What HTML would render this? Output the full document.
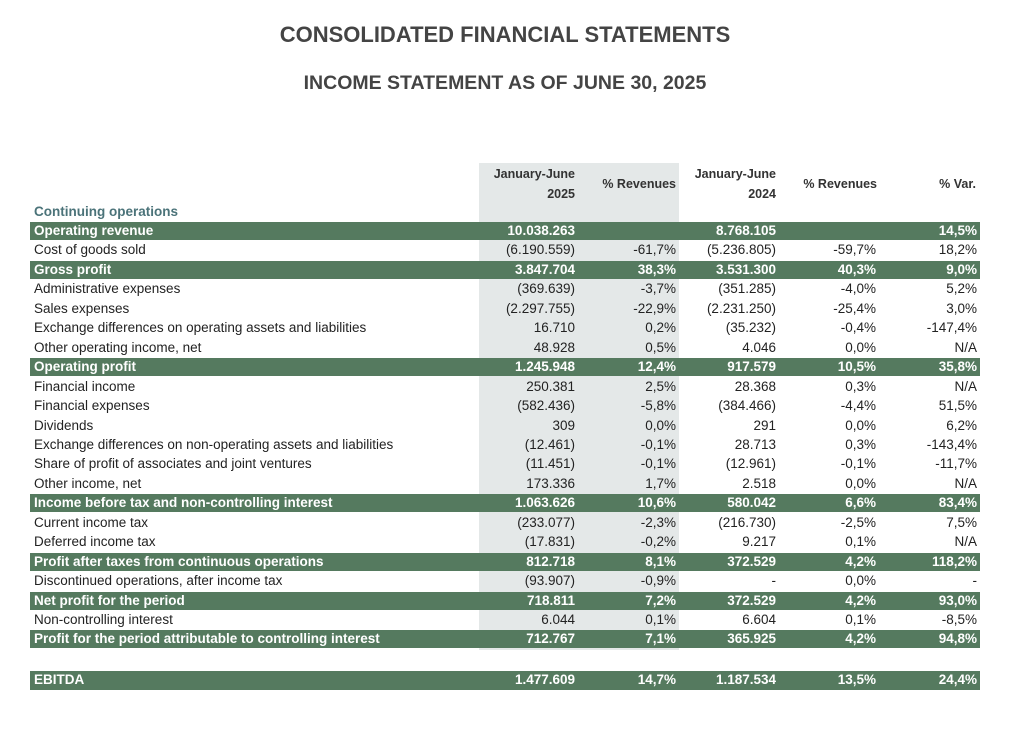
<!DOCTYPE html>
<html><head><meta charset="utf-8"><style>
body{margin:0;width:1032px;height:732px;background:#fff;font-family:"Liberation Sans",Arial,sans-serif;color:#222;position:relative;overflow:hidden}
.t{position:absolute;left:0;width:1010px;text-align:center;font-weight:bold;color:#444}
#grey{position:absolute;left:479px;top:163px;width:200px;height:487px;background:#e4e8e8}
.h{position:absolute;font-size:12.5px;font-weight:bold;color:#333;text-align:right;line-height:20px}
.row{position:absolute;left:30px;width:950px;height:18px;font-size:13.5px;line-height:18px}
.row.g{background:#557a5f;color:#fff;font-weight:bold}
.row span{position:absolute;white-space:nowrap}
.l{left:4px}
.c1{right:405px}.c2{right:304px}.c3{right:204px}.c4{right:104px}.c5{right:3px}
</style></head><body>
<div class="t" style="top:22px;font-size:22px">CONSOLIDATED FINANCIAL STATEMENTS</div>
<div class="t" style="top:72px;font-size:19.5px">INCOME STATEMENT AS OF JUNE 30, 2025</div>
<div id="grey"></div>
<div class="h" style="left:475px;width:100px;top:164px">January-June<br>2025</div>
<div class="h" style="left:576px;width:100px;top:174px">% Revenues</div>
<div class="h" style="left:676px;width:100px;top:164px">January-June<br>2024</div>
<div class="h" style="left:777px;width:100px;top:174px">% Revenues</div>
<div class="h" style="left:876px;width:100px;top:174px">% Var.</div>
<div style="position:absolute;left:34px;top:204px;font-size:13.5px;font-weight:bold;color:#4b7379">Continuing operations</div>
<div id="rows"></div>
<script>
const rows=[
["g","Operating revenue","10.038.263","","8.768.105","","14,5%"],
["","Cost of goods sold","(6.190.559)","-61,7%","(5.236.805)","-59,7%","18,2%"],
["g","Gross profit","3.847.704","38,3%","3.531.300","40,3%","9,0%"],
["","Administrative expenses","(369.639)","-3,7%","(351.285)","-4,0%","5,2%"],
["","Sales expenses","(2.297.755)","-22,9%","(2.231.250)","-25,4%","3,0%"],
["","Exchange differences on operating assets and liabilities","16.710","0,2%","(35.232)","-0,4%","-147,4%"],
["","Other operating income, net","48.928","0,5%","4.046","0,0%","N/A"],
["g","Operating profit","1.245.948","12,4%","917.579","10,5%","35,8%"],
["","Financial income","250.381","2,5%","28.368","0,3%","N/A"],
["","Financial expenses","(582.436)","-5,8%","(384.466)","-4,4%","51,5%"],
["","Dividends","309","0,0%","291","0,0%","6,2%"],
["","Exchange differences on non-operating assets and liabilities","(12.461)","-0,1%","28.713","0,3%","-143,4%"],
["","Share of profit of associates and joint ventures","(11.451)","-0,1%","(12.961)","-0,1%","-11,7%"],
["","Other income, net","173.336","1,7%","2.518","0,0%","N/A"],
["g","Income before tax and non-controlling interest","1.063.626","10,6%","580.042","6,6%","83,4%"],
["","Current income tax","(233.077)","-2,3%","(216.730)","-2,5%","7,5%"],
["","Deferred income tax","(17.831)","-0,2%","9.217","0,1%","N/A"],
["g","Profit after taxes from continuous operations","812.718","8,1%","372.529","4,2%","118,2%"],
["","Discontinued operations, after income tax","(93.907)","-0,9%","-","0,0%","-"],
["g","Net profit for the period","718.811","7,2%","372.529","4,2%","93,0%"],
["","Non-controlling interest","6.044","0,1%","6.604","0,1%","-8,5%"],
["g","Profit for the period attributable to controlling interest","712.767","7,1%","365.925","4,2%","94,8%"],
["g","EBITDA","1.477.609","14,7%","1.187.534","13,5%","24,4%"]
];
const cont=document.getElementById('rows');
const cls=['l','c1','c2','c3','c4','c5'];
rows.forEach((r,i)=>{
  const d=document.createElement('div');
  d.className='row '+r[0];
  const top=i<22?222+i*19.45:671;
  d.style.top=top+'px';
  if(i==22)d.style.height='19px';
  
  
  for(let k=1;k<7;k++){
    const s=document.createElement('span');
    s.className=cls[k-1];
    s.textContent=r[k];
    
    
    d.appendChild(s);
  }
  cont.appendChild(d);
});
</script>
</body></html>
